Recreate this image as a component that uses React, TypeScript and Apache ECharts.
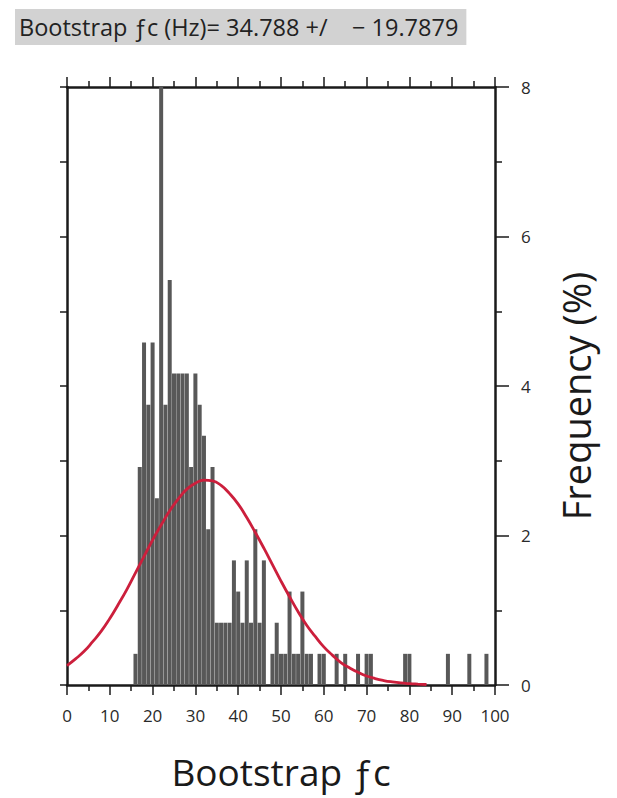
import React, { useEffect, useRef } from "react";
import * as echarts from "echarts";

const binCenters = [16, 17, 18, 19, 20, 21, 22, 23, 24, 25, 26, 27, 28, 29, 30, 31, 32, 33, 34, 35, 36, 37, 38, 39, 40, 41, 42, 43, 44, 45, 46, 48, 49, 50, 51, 52, 53, 54, 55, 56, 57, 59, 60, 63, 65, 68, 70, 71, 79, 80, 89, 94, 98];
const binFreq = [0.417, 2.917, 4.583, 3.75, 4.583, 2.5, 8.333, 3.75, 5.417, 4.167, 4.167, 4.167, 4.167, 2.917, 4.167, 3.75, 3.333, 2.083, 2.917, 0.833, 0.833, 0.833, 0.833, 1.667, 1.25, 0.833, 1.667, 0.833, 2.083, 0.833, 1.667, 0.417, 0.833, 0.417, 0.417, 1.25, 0.417, 0.417, 1.25, 0.417, 0.417, 0.417, 0.417, 0.417, 0.417, 0.417, 0.417, 0.417, 0.417, 0.417, 0.417, 0.417, 0.417];

const curveX = [0, 2, 4, 6, 8, 10, 12, 14, 16, 18, 20, 22, 24, 26, 28, 30, 32, 34, 36, 38, 40, 42, 44, 46, 48, 50, 52, 54, 56, 58, 60, 62, 64, 66, 68, 70, 72, 74, 76, 78, 80, 82, 84];
const curveY = [0.26, 0.35, 0.45, 0.58, 0.72, 0.89, 1.08, 1.28, 1.5, 1.72, 1.94, 2.14, 2.33, 2.49, 2.62, 2.7, 2.74, 2.73, 2.67, 2.56, 2.42, 2.24, 2.04, 1.83, 1.61, 1.39, 1.18, 0.98, 0.8, 0.65, 0.51, 0.4, 0.3, 0.23, 0.17, 0.12, 0.086, 0.06, 0.041, 0.027, 0.018, 0.012, 0.007];

const titleText = "Bootstrap \u0192c (Hz)= 34.788 +/    \u2212 19.7879";
const xName = "Bootstrap \u0192c";
const yName = "Frequency (%)";

export default function App() {
  const ref = useRef<HTMLDivElement>(null);
  useEffect(() => {
    if (!ref.current) return;
    const chart = echarts.init(ref.current, undefined, { renderer: "svg" });
    const font = "'Open Sans', 'Noto Sans', sans-serif";
    const lineStyle = { color: "#1a1a1a", width: 2.5 };
    const tickStyle = { color: "#1a1a1a", width: 1.5 };
    chart.setOption({
      animation: false,
      backgroundColor: "#ffffff",
      title: {
        text: titleText,
        left: 15,
        top: 9,
        padding: [6, 8, 6, 4],
        backgroundColor: "#d2d2d2",
        textStyle: { fontFamily: font, fontSize: 23.5, fontWeight: "normal", color: "#222" },
      },
      grid: { left: 67, right: 122, top: 87, bottom: 113 },
      xAxis: [
        {
          type: "value",
          position: "bottom",
          min: 0,
          max: 100,
          interval: 10,
          name: xName,
          nameLocation: "middle",
          nameGap: 68,
          nameTextStyle: { fontFamily: font, fontSize: 37, color: "#1a1a1a" },
          axisLine: { show: true, onZero: false, lineStyle },
          axisTick: { show: true, length: 10, inside: false, lineStyle: tickStyle },
          minorTick: { show: true, splitNumber: 2, length: 6, lineStyle: tickStyle },
          axisLabel: { fontFamily: font, fontSize: 17, color: "#2a2a2a", margin: 22 },
          splitLine: { show: false },
        },
        {
          type: "value",
          position: "top",
          min: 0,
          max: 100,
          interval: 10,
          axisLine: { show: true, onZero: false, lineStyle },
          axisTick: { show: true, length: 10, lineStyle: tickStyle },
          minorTick: { show: true, splitNumber: 2, length: 6, lineStyle: tickStyle },
          axisLabel: { show: false },
          splitLine: { show: false },
        },
      ],
      yAxis: [
        {
          type: "value",
          position: "right",
          min: 0,
          max: 8,
          interval: 2,
          name: yName,
          nameLocation: "middle",
          nameRotate: 90,
          nameGap: 62,
          nameTextStyle: { fontFamily: font, fontSize: 38, color: "#1a1a1a", padding: [0, 20, 0, 0] },
          axisLine: { show: true, onZero: false, lineStyle },
          axisTick: { show: true, length: 14, lineStyle: tickStyle },
          minorTick: { show: true, splitNumber: 2, length: 7, lineStyle: tickStyle },
          axisLabel: { fontFamily: font, fontSize: 17, color: "#2a2a2a", margin: 26 },
          splitLine: { show: false },
        },
        {
          type: "value",
          position: "left",
          min: 0,
          max: 8,
          interval: 2,
          axisLine: { show: true, onZero: false, lineStyle },
          axisTick: { show: true, length: 7, lineStyle: tickStyle },
          minorTick: { show: true, splitNumber: 2, length: 7, lineStyle: tickStyle },
          axisLabel: { show: false },
          splitLine: { show: false },
        },
      ],
      series: [
        {
          type: "bar",
          xAxisIndex: 0,
          yAxisIndex: 0,
          data: binCenters.map((c, i) => [c, binFreq[i]]),
          barWidth: 4,
          itemStyle: { color: "#585858" },
          clip: true,
          z: 2,
        },
        {
          type: "line",
          xAxisIndex: 0,
          yAxisIndex: 0,
          data: curveX.map((x, i) => [x, curveY[i]]),
          smooth: true,
          showSymbol: false,
          symbol: "none",
          lineStyle: { color: "#cc1f3c", width: 2.8 },
          z: 3,
        },
      ],
    });
    return () => chart.dispose();
  }, []);
  return <div ref={ref} style={{ position: "fixed", left: 0, top: 0, width: 617, height: 798 }} />;
}
